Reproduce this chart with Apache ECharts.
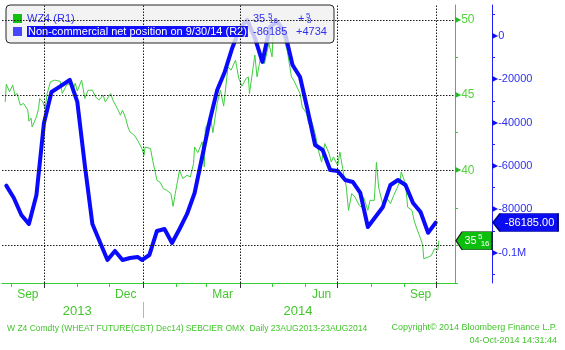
<!DOCTYPE html>
<html>
<head>
<meta charset="utf-8">
<script src="https://cdn.jsdelivr.net/npm/echarts@6/dist/echarts.min.js"></script>
<style>
  html, body { margin: 0; padding: 0; background: #ffffff; }
  #chart { width: 565px; height: 350px; }
</style>
</head>
<body>
<div id="chart"></div>
<script>
// Dec 2014 wheat future (left panel scale, R1)
const wheatDates = [
  '2013-08-26','2013-08-27','2013-08-30','2013-09-02','2013-09-04','2013-09-06','2013-09-09','2013-09-12','2013-09-16','2013-09-17',
  '2013-09-19','2013-09-20','2013-09-24','2013-09-26','2013-09-27','2013-09-30','2013-10-02','2013-10-04','2013-10-07','2013-10-11',
  '2013-10-14','2013-10-16','2013-10-17','2013-10-18','2013-10-22','2013-10-25','2013-10-28','2013-10-30','2013-11-01','2013-11-05',
  '2013-11-08','2013-11-11','2013-11-15','2013-11-18','2013-11-21','2013-11-25','2013-11-27','2013-12-02','2013-12-04','2013-12-09',
  '2013-12-11','2013-12-13','2013-12-16','2013-12-18','2013-12-20','2013-12-24','2013-12-27','2013-12-31','2014-01-02','2014-01-03',
  '2014-01-08','2014-01-10','2014-01-13','2014-01-14','2014-01-17','2014-01-20','2014-01-23','2014-01-27','2014-01-29','2014-01-31',
  '2014-02-04','2014-02-07','2014-02-11','2014-02-14','2014-02-17','2014-02-18','2014-02-21','2014-02-25','2014-02-27','2014-02-28',
  '2014-03-05','2014-03-07','2014-03-11','2014-03-14','2014-03-17','2014-03-20','2014-03-21','2014-03-24','2014-03-28','2014-03-31',
  '2014-04-03','2014-04-07','2014-04-09','2014-04-10','2014-04-15','2014-04-17','2014-04-21','2014-04-24','2014-04-28','2014-05-01',
  '2014-05-02','2014-05-06','2014-05-08','2014-05-09','2014-05-15','2014-05-19','2014-05-21','2014-05-27','2014-05-29',
  '2014-06-02','2014-06-04','2014-06-06','2014-06-10','2014-06-13','2014-06-16','2014-06-19','2014-06-23','2014-06-25','2014-06-27',
  '2014-07-01','2014-07-03','2014-07-07','2014-07-09','2014-07-11','2014-07-14','2014-07-17','2014-07-21','2014-07-23','2014-07-25',
  '2014-07-29','2014-07-31','2014-08-04','2014-08-06','2014-08-08','2014-08-12','2014-08-15','2014-08-19','2014-08-22','2014-08-25',
  '2014-08-28','2014-08-29','2014-09-02','2014-09-04','2014-09-08','2014-09-10','2014-09-12','2014-09-16','2014-09-18','2014-09-19',
  '2014-09-23','2014-09-26','2014-09-29','2014-10-02','2014-10-03'
];
const wheatPrices = [
  44.55,45.73,45.22,45.67,45.00,45.11,44.33,44.45,44.00,43.27,
  43.47,42.89,43.55,44.11,44.78,44.55,44.11,45.11,45.89,46.00,
  45.95,45.93,45.55,45.11,45.67,45.78,45.33,45.80,45.27,46.00,
  44.78,45.33,45.33,44.89,44.67,45.00,44.55,45.11,44.67,44.00,
  43.67,44.00,43.45,42.89,42.55,42.33,42.00,41.45,41.00,41.55,
  41.45,40.67,39.67,39.33,39.20,38.78,38.67,38.45,37.60,38.45,
  40.00,39.45,39.67,39.55,40.45,41.55,41.17,41.89,40.22,42.80,
  43.47,42.50,44.47,45.33,44.27,46.22,46.87,46.67,47.33,46.13,
  45.60,46.13,46.20,45.11,47.67,46.22,47.78,47.11,48.45,47.55,
  49.11,49.47,49.73,49.40,48.00,46.22,46.00,45.11,44.22,
  43.78,43.11,43.45,42.45,41.33,40.55,41.78,41.11,40.55,40.89,
  40.33,41.22,39.55,38.89,37.33,38.45,38.22,37.67,37.55,38.22,
  37.33,38.00,38.00,40.53,38.89,37.67,38.22,37.78,38.33,38.78,
  39.33,39.89,39.11,37.55,37.33,36.67,36.22,35.45,35.00,34.11,
  34.22,34.33,34.78,34.6875,35.3125
];

// Non-commercial net position, weekly (right panel scale, R2)
const cotDates = [
  '2013-08-27','2013-09-03','2013-09-10','2013-09-17','2013-09-24','2013-10-01','2013-10-08','2013-10-15','2013-10-25','2013-11-01',
  '2013-11-08','2013-11-15','2013-11-22','2013-11-29','2013-12-06','2013-12-13','2013-12-20','2013-12-27','2013-12-31','2014-01-07',
  '2014-01-14','2014-01-21','2014-01-28','2014-02-04','2014-02-11','2014-02-18','2014-02-25','2014-03-04','2014-03-11','2014-03-18',
  '2014-03-25','2014-04-01','2014-04-08','2014-04-15','2014-04-22','2014-04-29','2014-05-06','2014-05-13','2014-05-20','2014-05-27',
  '2014-06-03','2014-06-10','2014-06-17','2014-06-24','2014-07-01','2014-07-08','2014-07-15','2014-07-22','2014-07-29','2014-08-05',
  '2014-08-12','2014-08-19','2014-08-26','2014-09-02','2014-09-09','2014-09-16','2014-09-23','2014-09-30'
];
const cotNet = [
  -69140,-74830,-82680,-86840,-73440,-40190,-25870,-23600,-20320,-30480,
  -59810,-86840,-95150,-103460,-99310,-103460,-102540,-102080,-103460,-101150,
  -90070,-89150,-95610,-89150,-82220,-72520,-55890,-39260,-24940,-16630,
  -5540,3700,7390,-920,-12010,4160,6470,1390,-13390,-18940,
  -34180,-50350,-52660,-61890,-62360,-66510,-67440,-72520,-88220,-83600,
  -78980,-68820,-66510,-68820,-77140,-81290,-90919,-86185
];

// Time axis extent and calendar marks
const axisStart = '2013-08-23';
const axisEnd = '2014-10-18';
const monthTickDates = ['2013-09-01','2013-10-01','2013-11-01','2013-12-01','2014-01-01','2014-02-01','2014-03-01',
  '2014-04-01','2014-05-01','2014-06-01','2014-07-01','2014-08-01','2014-09-01','2014-10-01'];
const quarterDates = ['2013-10-01','2014-01-01','2014-04-01','2014-07-01','2014-10-01'];
const monthLabelDates = ['2013-09-16','2013-12-16','2014-03-16','2014-06-16','2014-09-16'];
const monthLabels = ['Sep','Dec','Mar','Jun','Sep'];
const yearLabelDates = ['2013-11-01','2014-05-25'];
const yearLabels = ['2013','2014'];
const yearBreakDates = ['2014-01-01'];

// Value axis marks
const priceTicks = [32.5,35,37.5,40,42.5,45,47.5,50];
const priceLabels = [40,45,50];
const priceGrid = [35,40,45,50];
const netTicks = [10000,0,-10000,-20000,-30000,-40000,-50000,-60000,-70000,-80000,-90000,-100000,-110000];
const netLabels = [0,-20000,-40000,-60000,-80000,-100000];

const GREEN_LINE = '#3fcf3f';
const GREEN_AXIS = '#33cc33';
const GREEN_TEXT = '#44c62e';
const BLUE_LINE = '#0a0aff';
const BLUE_TEXT = '#3030ee';
const FONT = '"Liberation Sans", Arial, sans-serif';

// Dates are placed on a numeric (millisecond) axis
const t = s => +echarts.number.parseDate(s);

const lastPrice = wheatPrices[wheatPrices.length - 1];
const priceChange = lastPrice - wheatPrices[wheatPrices.length - 2];
const lastNet = cotNet[cotNet.length - 1];
const netChange = lastNet - cotNet[cotNet.length - 2];

const lastCot = echarts.number.parseDate(cotDates[cotDates.length - 1]);
const priceName = 'WZ4 (R1)';
const netName = 'Non-commercial net position on ' + (lastCot.getMonth() + 1) + '/' + lastCot.getDate() + '/' +
  String(lastCot.getFullYear()).slice(2) + ' (R2)';

// Split a price into whole part and a reduced sixteenths fraction
function fracParts(v) {
  const n = Math.round(Math.abs(v) * 16);
  const whole = Math.floor(n / 16);
  let num = n % 16, den = 16;
  while (num && num % 2 === 0) { num /= 2; den /= 2; }
  return { whole, num, den };
}

function measure(text, font) {
  const ctx = document.createElement('canvas').getContext('2d');
  ctx.font = font;
  return ctx.measureText(text).width;
}

const hlWidth = measure(netName, '11px "Liberation Sans"') + 2;
const NAME_COL = 226;

const legendFormatter = function (name) {
  if (name === priceName) {
    const p = fracParts(lastPrice);
    const c = fracParts(priceChange);
    const sign = priceChange >= 0 ? '+' : '-';
    let s = '{nm|' + name + '}{vb|' + p.whole + '}';
    s += p.num ? '{vs|' + p.num + '}{vd|' + p.den + '}' : '{vd| }';
    s += '{cb|' + sign + (c.whole ? c.whole : '') + '}';
    s += c.num ? '{vs|' + c.num + '}{cd|' + c.den + '}' : '{cd| }';
    return s;
  }
  return '{hl|' + name + '}{gp| }{v2|' + lastNet + '}{c2|' + (netChange >= 0 ? '+' : '') + netChange + '}';
};

const monthLabelTs = monthLabelDates.map(t);
const yearLabelTs = yearLabelDates.map(t);

const chart = echarts.init(document.getElementById('chart'), null, { renderer: 'canvas', width: 565, height: 350 });

const tagPrice = (function () {
  const p = fracParts(lastPrice);
  return '{b|' + p.whole + '}' + (p.num ? '{s|' + p.num + '}{d|' + p.den + '}' : '');
})();

const footStyle = size => ({ fontSize: size, fontWeight: 'normal', color: GREEN_TEXT, fontFamily: FONT });

const option = {
  animation: false,
  backgroundColor: '#ffffff',
  textStyle: { fontFamily: FONT },
  title: [
    { text: 'W Z4 Comdty (WHEAT FUTURE(CBT) Dec14) SEBCIER OMX  Daily 23AUG2013-23AUG2014', left: 7, top: 324, padding: 0,
      textStyle: footStyle(8.5) },
    { text: 'Copyright\u00a9 2014 Bloomberg Finance L.P.', right: 8, top: 323, padding: 0, textStyle: footStyle(9) },
    { text: '04-Oct-2014 14:31:44', right: 8, top: 336, padding: 0, textStyle: footStyle(9) }
  ],
  legend: {
    show: true,
    left: 6,
    top: 5,
    orient: 'vertical',
    icon: 'rect',
    itemWidth: 9,
    itemHeight: 9,
    itemGap: 0,
    padding: [7, 5, 5, 7],
    backgroundColor: 'rgba(240,240,240,0.82)',
    borderColor: '#262626',
    borderWidth: 1,
    borderRadius: 4,
    selectedMode: false,
    data: [priceName, netName],
    formatter: legendFormatter,
    textStyle: {
      fontFamily: FONT, fontSize: 11, lineHeight: 13, color: BLUE_TEXT,
      rich: {
        nm: { fontSize: 11, color: BLUE_TEXT, width: NAME_COL, lineHeight: 13 },
        hl: { fontSize: 11, color: '#ffffff', backgroundColor: '#1010ff', padding: [0, 1, 0, 1], lineHeight: 13 },
        gp: { fontSize: 11, width: Math.max(1, NAME_COL - hlWidth), lineHeight: 13 },
        vb: { fontSize: 11, color: BLUE_TEXT, width: 13, lineHeight: 13 },
        vs: { fontSize: 8, color: BLUE_TEXT, width: 1, verticalAlign: 'top', lineHeight: 13, padding: [0, 0, 0, 2] },
        vd: { fontSize: 8, color: BLUE_TEXT, width: 29, verticalAlign: 'bottom', lineHeight: 13 },
        cb: { fontSize: 11, color: BLUE_TEXT, width: 6, lineHeight: 13 },
        cd: { fontSize: 8, color: BLUE_TEXT, width: 22, verticalAlign: 'bottom', lineHeight: 13 },
        v2: { fontSize: 11, color: BLUE_TEXT, width: 43, lineHeight: 13 },
        c2: { fontSize: 11, color: BLUE_TEXT, width: 29, lineHeight: 13 }
      }
    }
  },
  grid: { left: 2, right: 110, top: 5, bottom: 67, containLabel: false },
  xAxis: [
    {
      type: 'value', min: t(axisStart), max: t(axisEnd), position: 'bottom',
      axisLine: { show: true, onZero: false, lineStyle: { color: GREEN_AXIS, width: 1 } },
      axisTick: { show: true, customValues: monthTickDates.map(t), length: 4, lineStyle: { color: GREEN_AXIS } },
      axisLabel: {
        show: true, customValues: monthLabelTs, margin: 6, fontSize: 12, color: GREEN_TEXT, fontFamily: FONT,
        formatter: v => { const i = monthLabelTs.indexOf(v); return i >= 0 ? monthLabels[i] : ''; }
      },
      splitLine: { show: false }
    },
    {
      type: 'value', min: t(axisStart), max: t(axisEnd), position: 'bottom', offset: 0,
      axisLine: { show: false, onZero: false },
      axisTick: { show: true, customValues: quarterDates.map(t), length: 5, lineStyle: { color: '#333333' } },
      axisLabel: { show: false },
      splitLine: { show: false }
    },
    {
      type: 'value', min: t(axisStart), max: t(axisEnd), position: 'bottom', offset: 19,
      axisLine: { show: false, onZero: false },
      axisTick: { show: true, customValues: yearBreakDates.map(t), length: 16, lineStyle: { color: '#8fcf8f' } },
      axisLabel: {
        show: true, customValues: yearLabelTs, margin: 3, fontSize: 13, color: GREEN_TEXT, fontFamily: FONT,
        formatter: v => { const i = yearLabelTs.indexOf(v); return i >= 0 ? yearLabels[i] : ''; }
      },
      splitLine: { show: false }
    }
  ],
  yAxis: [
    {
      type: 'value', position: 'right', offset: 0, min: 32.5, max: 51,
      axisLine: { show: true, onZero: false, lineStyle: { color: GREEN_AXIS, width: 1 } },
      axisTick: { show: true, customValues: priceTicks, length: 3, lineStyle: { color: GREEN_AXIS } },
      axisLabel: {
        show: true, customValues: priceLabels, margin: 0,
        formatter: v => '{a|\u25B6}{n|' + v + '}',
        rich: {
          a: { fontFamily: 'DejaVu Sans', fontSize: 8, color: '#22bb22' },
          n: { fontFamily: FONT, fontSize: 12, color: '#55d23a' }
        }
      },
      splitLine: { show: false }
    },
    {
      type: 'value', position: 'right', offset: 37, min: -114100, max: 14300,
      axisLine: { show: true, onZero: false, lineStyle: { color: '#2020ff', width: 1 } },
      axisTick: { show: true, customValues: netTicks, length: 3, lineStyle: { color: '#2020ff' } },
      axisLabel: {
        show: true, customValues: netLabels, margin: 0,
        formatter: v => '{a|\u25B6}{n|' + (v === -100000 ? '-0.1M' : v) + '}',
        rich: {
          a: { fontFamily: 'DejaVu Sans', fontSize: 8, color: '#1010ee' },
          n: { fontFamily: FONT, fontSize: 11, color: BLUE_TEXT }
        }
      },
      splitLine: { show: false }
    }
  ],
  series: [
    {
      name: priceName,
      type: 'line',
      xAxisIndex: 0,
      yAxisIndex: 0,
      data: wheatDates.map((d, i) => [t(d), wheatPrices[i]]),
      showSymbol: false,
      symbol: 'none',
      clip: false,
      z: 2,
      lineStyle: { color: GREEN_LINE, width: 1 },
      itemStyle: { color: '#12c012' },
      markLine: {
        silent: true,
        symbol: ['none', 'none'],
        label: { show: false },
        lineStyle: { color: '#1a1a1a', type: [1.5, 1.5], width: 1 },
        data: priceGrid.map(v => ({ yAxis: v })).concat(quarterDates.map(d => ({ xAxis: t(d) })))
      },
      markPoint: {
        silent: true,
        symbol: 'path://M0,9L6,0L36,0L36,18L6,18Z',
        symbolSize: [36, 18],
        symbolKeepAspect: false,
        symbolOffset: [19, 0],
        itemStyle: { color: '#0cbf0c', borderColor: '#1e1e1e', borderWidth: 1 },
        label: {
          show: true, position: 'inside', offset: [3, 0], formatter: () => tagPrice,
          rich: {
            b: { fontFamily: FONT, fontSize: 11, color: '#ffffff', lineHeight: 15 },
            s: { fontFamily: FONT, fontSize: 8, color: '#ffffff', width: 1, verticalAlign: 'top', lineHeight: 15, padding: [0, 0, 0, 3] },
            d: { fontFamily: FONT, fontSize: 8, color: '#ffffff', verticalAlign: 'bottom', lineHeight: 15 }
          }
        },
        data: [{ coord: [t(axisEnd), lastPrice], value: lastPrice }]
      }
    },
    {
      name: netName,
      type: 'line',
      xAxisIndex: 0,
      yAxisIndex: 1,
      data: cotDates.map((d, i) => [t(d), cotNet[i]]),
      showSymbol: false,
      symbol: 'none',
      clip: false,
      z: 3,
      lineStyle: { color: BLUE_LINE, width: 4, join: 'round', cap: 'round' },
      itemStyle: { color: '#4646ff' },
      markPoint: {
        silent: true,
        symbol: 'path://M0,9L7,0L65,0L65,18L7,18Z',
        symbolSize: [65, 18],
        symbolKeepAspect: false,
        symbolOffset: [70.5, 0],
        itemStyle: { color: '#0c0cf0', borderColor: '#000080', borderWidth: 1 },
        label: {
          show: true, position: 'inside', offset: [4, 0], color: '#ffffff', fontFamily: FONT, fontSize: 11,
          formatter: p => p.value.toFixed(2)
        },
        data: [{ coord: [t(axisEnd), lastNet], value: lastNet }]
      }
    }
  ]
};

chart.setOption(option);
</script>
</body>
</html>
